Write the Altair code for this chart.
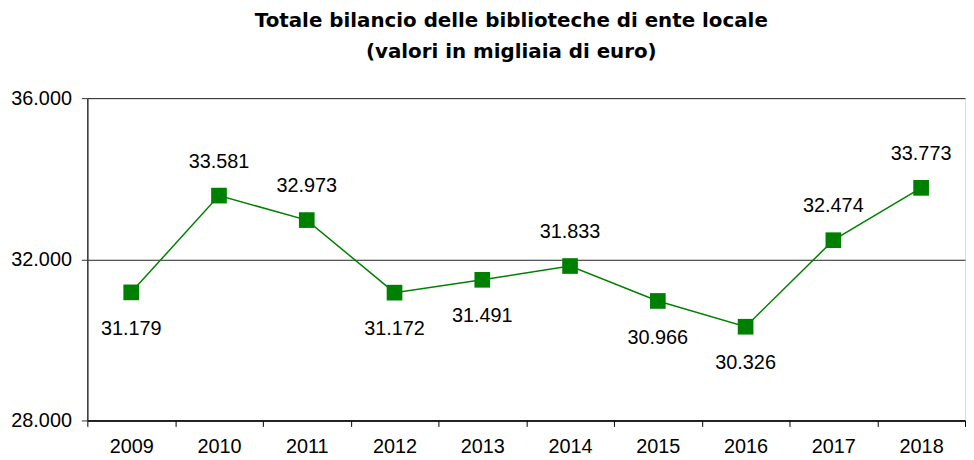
import altair as alt
import pandas as pd

years = ["2009", "2010", "2011", "2012", "2013", "2014", "2015", "2016", "2017", "2018"]
values = [31179, 33581, 32973, 31172, 31491, 31833, 30966, 30326, 32474, 33773]
label_side = ["below", "above", "above", "below", "below", "above", "below", "below", "above", "above"]

df = pd.DataFrame({"year": years, "value": values, "side": label_side})

FONT = "Liberation Sans"
GREEN = "#008000"
FS = 20

x_enc = alt.X(
    "year:N",
    sort=years,
    scale=alt.Scale(paddingInner=0, paddingOuter=0),
    axis=alt.Axis(
        title=None, labelAngle=0, labelFontSize=FS, labelFont=FONT, labelColor="#000",
        domainColor="#000", domainWidth=1.5, tickColor="#000", tickSize=6, tickBand="extent",
        labelPadding=10, grid=False,
    ),
)
y_enc = alt.Y(
    "value:Q",
    scale=alt.Scale(domain=[28000, 36000], nice=False, zero=False),
    axis=alt.Axis(
        title=None, values=[28000, 32000, 36000], labelFontSize=FS, labelFont=FONT, labelColor="#000",
        labelExpr="replace(format(datum.value, ','), ',', '.')",
        domainColor="#333", domainWidth=1.5, tickColor="#333", tickSize=6, labelPadding=10,
        grid=True, gridColor="#222", gridWidth=1,
    ),
)

base = alt.Chart(df).encode(x=x_enc, y=y_enc)

line = base.mark_line(color=GREEN, strokeWidth=1.5)
points = base.mark_point(shape="square", filled=True, size=250, color=GREEN, opacity=1)

above = base.transform_filter(alt.datum.side == "above").transform_calculate(
    lbl="replace(format(datum.value, ','), ',', '.')"
).mark_text(dy=-34, fontSize=FS, font=FONT, color="#000").encode(text="lbl:N")
below = base.transform_filter(alt.datum.side == "below").transform_calculate(
    lbl="replace(format(datum.value, ','), ',', '.')"
).mark_text(dy=37, fontSize=FS, font=FONT, color="#000").encode(text="lbl:N")

chart = (
    alt.layer(line, points, above, below)
    .properties(
        width=885,
        height=325,
        autosize=alt.AutoSizeParams(type="none"),
        padding={"left": 80, "top": 89, "right": 1, "bottom": 38},
        title=alt.TitleParams(
            text=["Totale bilancio delle biblioteche di ente locale", "(valori in migliaia di euro)"],
            font="DejaVu Sans", fontSize=20, fontWeight="bold", color="#000",
            anchor="middle", frame="group", dx=-15, offset=26, lineHeight=32,
        ),
    )
    .configure_view(stroke=None)
    .configure(background="white")
)

chart.save("out.html", embed_options={"renderer": "svg", "actions": False})
